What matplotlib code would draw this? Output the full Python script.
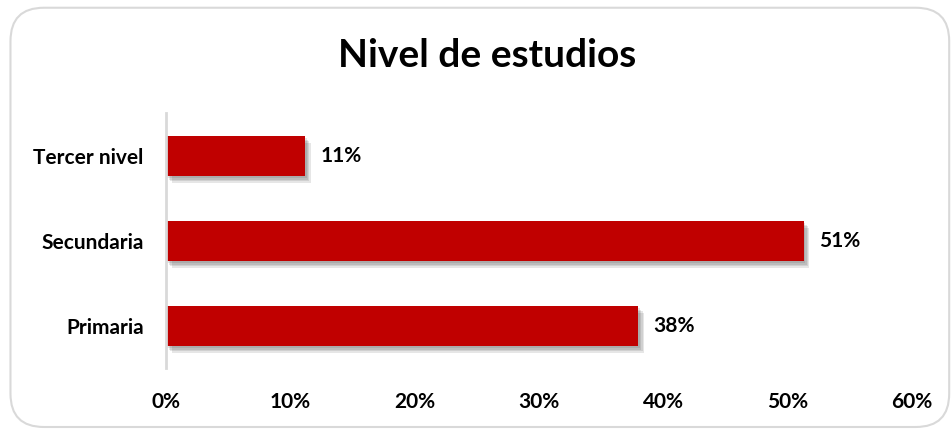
import matplotlib.pyplot as plt
import matplotlib.patheffects as pe
from matplotlib.patches import FancyBboxPatch
from matplotlib.ticker import FuncFormatter

plt.rcParams['font.family'] = ['Lato', 'DejaVu Sans']

categories = ["Primaria", "Secundaria", "Tercer nivel"]
values = [0.38, 0.513, 0.112]
labels = ["38%", "51%", "11%"]
xticks = [0, 0.1, 0.2, 0.3, 0.4, 0.5, 0.6]

fig = plt.figure(figsize=(9.53, 4.3), dpi=100)
fig.patch.set_facecolor("white")

# marco redondeado
frame = FancyBboxPatch((0.011, 0.007), 0.985, 0.975,
                       boxstyle="round,pad=0,rounding_size=0.035",
                       transform=fig.transFigure, fc="none", ec="#d9d9d9",
                       lw=1.5, mutation_aspect=953 / 430)
fig.patches.append(frame)

ax = fig.add_axes([0.1742, 0.144, 0.7828, 0.593])
ax.set_facecolor("none")

# sombra suave
shadow = [pe.SimplePatchShadow(offset=(o, -o - 1), alpha=0.12,
                               shadow_rgbFace="#333333") for o in (1, 2, 3, 4)]
bars = ax.barh(range(len(categories)), values, height=0.47, color="#C00000",
               path_effects=shadow + [pe.Normal()])

for i, (v, lab) in enumerate(zip(values, labels)):
    ax.text(v + 0.012, i, lab, va="center", ha="left", fontsize=15,
            fontweight="bold", color="black")

ax.set_xlim(0, 0.6)
ax.set_ylim(-0.5, 2.5)
ax.set_xticks(xticks)
ax.xaxis.set_major_formatter(FuncFormatter(lambda x, p: f"{x * 100:.0f}%"))
ax.set_yticks(range(len(categories)))
ax.set_yticklabels(categories)
for t in ax.get_xticklabels() + ax.get_yticklabels():
    t.set_fontweight("bold")
    t.set_fontsize(15)
ax.tick_params(axis="x", length=0, pad=17)
ax.tick_params(axis="y", length=0, pad=16)

for s in ["top", "right", "bottom"]:
    ax.spines[s].set_visible(False)
ax.spines["left"].set_color("#d9d9d9")
ax.spines["left"].set_linewidth(2)

fig.text(0.511, 0.872, "Nivel de estudios", ha="center", va="center",
         fontsize=28, fontweight="bold")

fig.savefig("out.png", dpi=100)
